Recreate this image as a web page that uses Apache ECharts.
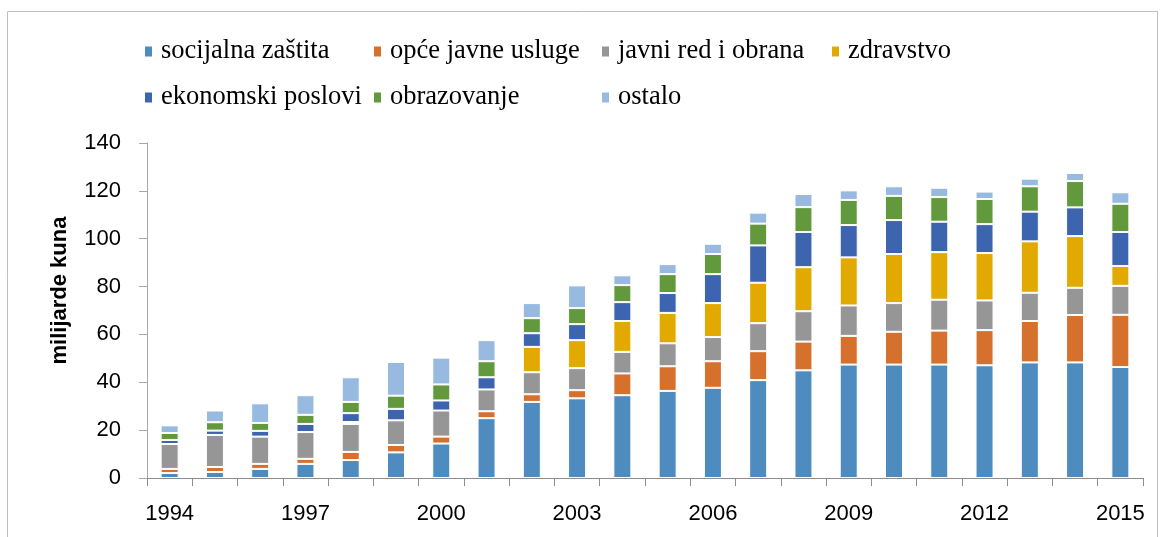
<!DOCTYPE html>
<html>
<head>
<meta charset="utf-8">
<script src="https://cdn.jsdelivr.net/npm/echarts@6/dist/echarts.min.js"></script>
<style>
html,body{margin:0;padding:0;background:#fff;}
#chart{width:1161px;height:537px;}
</style>
</head>
<body>
<div id="chart"></div>
<script>
const years = ['1994','1995','1996','1997','1998','1999','2000','2001','2002','2003','2004','2005','2006','2007','2008','2009','2010','2011','2012','2013','2014','2015'];
const seriesNames = ['socijalna zaštita','opće javne usluge','javni red i obrana','zdravstvo','ekonomski poslovi','obrazovanje','ostalo'];
const socijalnaZastita = [2.1,2.5,3.8,5.9,7.5,10.7,14.4,25.0,31.8,33.3,34.6,36.4,37.7,40.9,45.0,47.4,47.4,47.4,47.1,48.3,48.3,46.4];
const opceJavneUsluge = [1.7,2.1,2.1,2.1,3.4,3.1,2.9,2.9,3.2,3.4,9.1,10.3,11.1,12.1,12.0,12.0,13.7,14.2,14.7,17.3,19.8,21.8];
const javniRedIObrana = [10.4,13.4,11.4,11.2,11.7,10.3,10.9,9.1,9.2,9.2,9.0,9.6,10.1,11.7,12.7,12.7,12.0,12.9,12.4,11.8,11.4,12.1];
const zdravstvo = [0,0,0,0,0.8,0,0,0,10.6,11.7,12.9,12.7,14.2,16.9,18.4,20.1,20.5,19.9,19.8,21.5,21.6,8.3];
const ekonomskiPoslovi = [1.7,1.8,2.4,3.4,3.7,4.8,4.2,5.1,5.7,6.7,7.9,8.3,12.1,15.6,14.7,13.5,14.2,12.7,12.1,12.4,12.0,14.2];
const obrazovanje = [2.9,3.5,3.3,3.8,4.7,5.5,6.7,6.7,6.3,6.7,7.1,7.9,8.4,9.1,10.4,10.5,10.1,10.3,10.5,10.6,11.0,11.8];
const ostalo = [3.2,4.9,8.2,8.2,10.3,14.1,11.2,8.8,6.3,9.5,4.1,4.2,4.3,4.6,5.5,4.0,4.0,3.9,3.1,3.2,3.4,4.8];
const yTicks = [0,20,40,60,80,100,120,140];

const colors = ['#4E8BBF','#D5702D','#969696','#E2AA00','#3D64AE','#62993D','#99BAE0'];
const values = [socijalnaZastita, opceJavneUsluge, javniRedIObrana, zdravstvo, ekonomskiPoslovi, obrazovanje, ostalo];

const legendPos = [
  [143, 38], [372, 38], [600, 38], [830, 38],
  [143, 84], [372, 84], [600, 84]
];

const chart = echarts.init(document.getElementById('chart'), null, {renderer:'canvas'});
const option = {
  animation: false,
  backgroundColor: '#fff',
  color: colors,
  graphic: [{
    type: 'rect',
    shape: {x: 7.5, y: 11.5, width: 1150, height: 600},
    style: {fill: 'none', stroke: '#bfbfbf', lineWidth: 1},
    silent: true, z: -1
  }],
  legend: seriesNames.map((n, i) => ({
    data: [n],
    left: legendPos[i][0],
    top: legendPos[i][1],
    icon: 'rect',
    itemWidth: 9,
    itemHeight: 12,
    itemGap: 0,
    padding: 0,
    textStyle: {fontFamily: 'Liberation Serif', fontSize: 26.5, color: '#000', padding: [0,0,0,3]},
    selectedMode: false
  })),
  grid: {left: 147, right: 18, top: 143, bottom: 59, containLabel: false},
  xAxis: {
    type: 'category',
    data: years,
    axisLine: {lineStyle: {color: '#8c8c8c', width: 1}},
    axisTick: {show: true, interval: 0, length: 8, lineStyle: {color: '#8c8c8c'}},
    axisLabel: {interval: 2, margin: 25, fontFamily: 'Liberation Sans', fontSize: 22, color: '#000'},
    splitLine: {show: false}
  },
  yAxis: {
    type: 'value',
    min: 0, max: 140, interval: 20,
    name: 'milijarde kuna',
    nameLocation: 'middle',
    nameGap: 76,
    nameRotate: 90,
    nameTextStyle: {fontFamily: 'Liberation Sans', fontWeight: 'bold', fontSize: 22, color: '#000', padding: [0,0,0,40]},
    axisLine: {show: true, lineStyle: {color: '#a6a6a6', width: 1}},
    axisTick: {show: true, length: 8, lineStyle: {color: '#a6a6a6'}},
    axisLabel: {margin: 26, fontFamily: 'Liberation Sans', fontSize: 22, color: '#000',
      formatter: v => yTicks.includes(v) ? String(v) : ''},
    splitLine: {show: false}
  },
  series: seriesNames.map((n, i) => ({
    name: n,
    type: 'bar',
    stack: 'total',
    barWidth: 18,
    data: values[i],
    itemStyle: {color: colors[i], borderColor: '#ffffff', borderWidth: 1}
  }))
};
chart.setOption(option);
</script>
</body>
</html>
